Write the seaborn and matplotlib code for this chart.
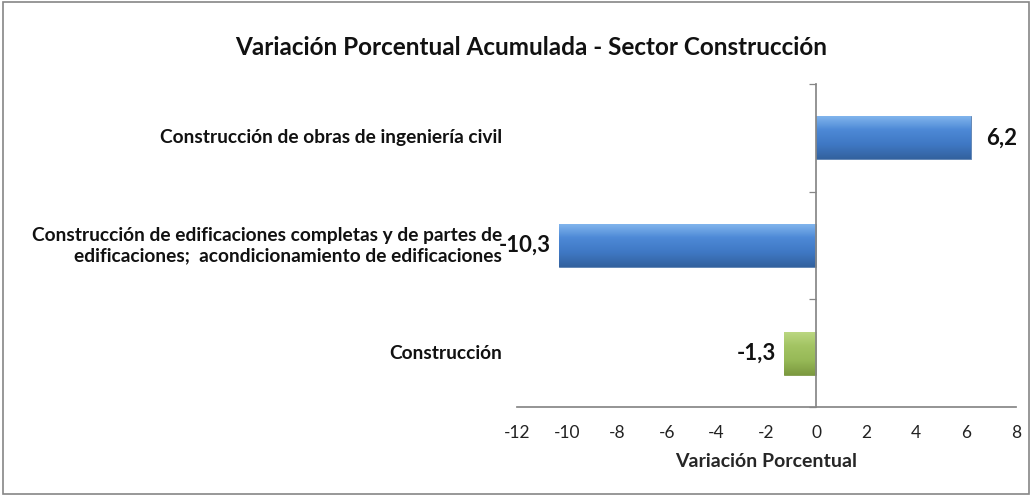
import numpy as np
import pandas as pd
import matplotlib
matplotlib.use("Agg")
import matplotlib.pyplot as plt
import matplotlib.transforms as mtransforms
from matplotlib.colors import LinearSegmentedColormap
from matplotlib.patches import Rectangle
import seaborn as sns

# data
categories = [
    "Construcción de obras de ingeniería civil",
    "Construcción de edificaciones completas y de partes de\nedificaciones;  acondicionamiento de edificaciones",
    "Construcción",
]
values = [6.2, -10.3, -1.3]
value_labels = ["6,2", "-10,3", "-1,3"]
bar_colors = ["#4a86d4", "#4a86d4", "#9bbb59"]
x_ticks = [-12, -10, -8, -6, -4, -2, 0, 2, 4, 6, 8]

gradients = {
    "#4a86d4": ["#84b7ee", "#4d89d6", "#3f78c4", "#33629f"],
    "#9bbb59": ["#bcd883", "#a3c463", "#97b957", "#7c9a40"],
}

sns.set_theme(style="white")
plt.rcParams["font.family"] = ["Lato", "DejaVu Sans"]

df = pd.DataFrame({"categoria": categories, "valor": values})

fig = plt.figure(figsize=(10.32, 4.95), dpi=100)
ax = fig.add_axes([0.501, 0.178, 0.4835, 0.652])

sns.barplot(data=df, x="valor", y="categoria", hue="categoria",
            palette=bar_colors, orient="h", width=0.4, legend=False, ax=ax)

# gradient fill over each bar
for patch, col in zip(ax.patches, bar_colors):
    x0, y0 = patch.get_x(), patch.get_y()
    w, h = patch.get_width(), patch.get_height()
    cmap = LinearSegmentedColormap.from_list("g", gradients[col])
    grad = np.linspace(0, 1, 64).reshape(-1, 1)
    im = ax.imshow(grad, cmap=cmap, aspect="auto",
                   extent=[x0, x0 + w, y0 + h, y0], origin="upper", zorder=3)
    im.set_clip_path(patch)
    patch.set_edgecolor("#5a7fb0" if col != "#9bbb59" else "#7f9a48")
    patch.set_linewidth(0.6)

ax.set_xlim(-12, 8)
ax.set_ylim(2.5, -0.5)
ax.set_xticks(x_ticks)
ax.set_xticklabels([str(t) for t in x_ticks], fontsize=12.5, color="#222222")
ax.tick_params(axis="x", direction="out", length=5, width=0.9, color="#868686", pad=8)
ax.set_xlabel("Variación Porcentual", fontsize=14, fontweight="bold", labelpad=9)
ax.set_ylabel("")

# category axis crosses at zero
for s in ["top", "right"]:
    ax.spines[s].set_visible(False)
ax.spines["left"].set_position(("data", 0))
ax.spines["left"].set_color("#868686")
ax.spines["bottom"].set_color("#868686")
ax.spines["left"].set_zorder(5)
ax.set_yticks([])
ax.set_yticks([-0.5, 0.5, 1.5, 2.5], minor=True)
ax.tick_params(axis="y", which="minor", direction="out", length=5, width=0.9,
               color="#868686", left=True)

trans = mtransforms.blended_transform_factory(ax.transAxes, ax.transData)
for i, cat in enumerate(categories):
    ax.text(-0.03, i, cat, transform=trans, ha="right", va="center",
            fontsize=13.8, fontweight="bold", color="#111111", linespacing=1.2)

for i, (v, lab) in enumerate(zip(values, value_labels)):
    if v >= 0:
        ax.annotate(lab, (v, i), xytext=(11, 0), textcoords="offset points",
                    ha="left", va="center", fontsize=16, fontweight="bold",
                    color="#111111")
    else:
        ax.annotate(lab, (v, i), xytext=(-6, 0), textcoords="offset points",
                    ha="right", va="center", fontsize=16, fontweight="bold",
                    color="#111111")

fig.text(0.515, 0.905, "Variación Porcentual Acumulada - Sector Construcción",
         ha="center", va="center", fontsize=17.5, fontweight="bold", color="#111111")

fig.patches.append(Rectangle((0.003, 0.003), 0.994, 0.993, transform=fig.transFigure,
                             fill=False, edgecolor="#868686", linewidth=1.2))

fig.savefig("out.png", dpi=100)
